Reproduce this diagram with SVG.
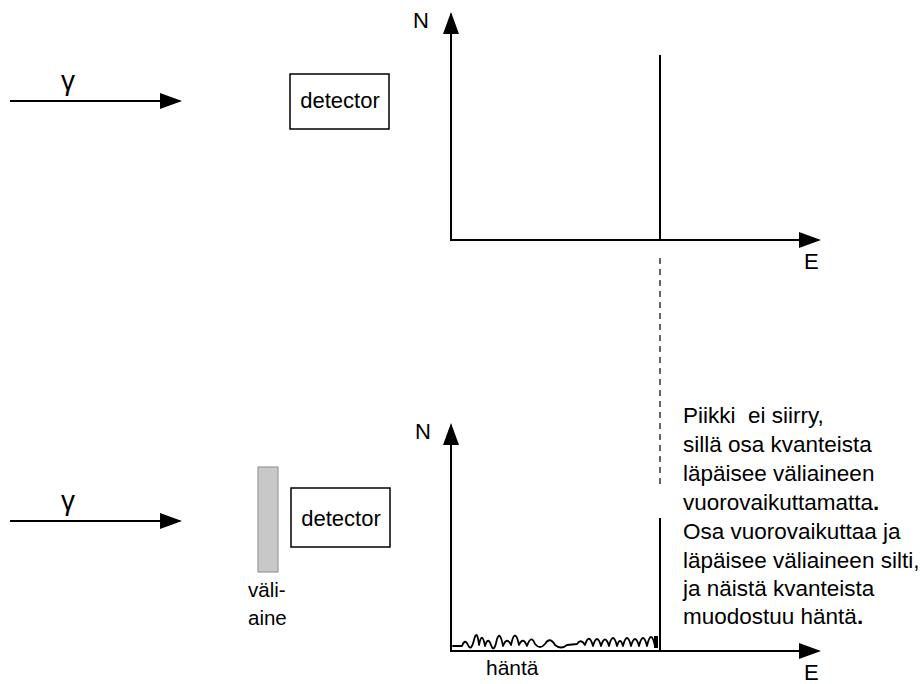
<svg xmlns="http://www.w3.org/2000/svg" width="920" height="684" viewBox="0 0 920 684">
  <style>
    text { font-family: "Liberation Sans", Arial, sans-serif; fill: #000; }
    .lbl { font-size: 22px; }
    .det { font-size: 22px; text-anchor: middle; }
    .note { font-size: 22.5px; white-space: pre; }
    .gam { font-size: 28px; }
    .ax { stroke: #000; stroke-width: 2; fill: none; }
    .box { fill: #fff; stroke: #000; stroke-width: 1.5; }
  </style>
  <defs>
    <marker id="head" markerUnits="userSpaceOnUse" markerWidth="22" markerHeight="16" refX="20" refY="8" orient="auto">
      <path d="M0,0 L22,8 L0,16 z" fill="#000"/>
    </marker>
  </defs>
  <rect width="920" height="684" fill="#fff"/>

  <!-- upper setup: bare detector -->
  <g id="beam-top">
    <text class="gam" x="61" y="90">γ</text>
  </g>
  <g id="detector-top">
    <rect class="box" x="290" y="74" width="99" height="55"/>
    <text class="det" x="340" y="108">detector</text>
  </g>

  <!-- upper spectrum -->
  <g id="spectrum-top">
    <text class="lbl" x="413" y="28">N</text>
    <text class="lbl" x="804" y="269">E</text>
    <line class="ax" x1="660" y1="55" x2="660" y2="240"/>
  </g>

  <!-- lower setup: absorber in front of detector -->
  <g id="beam-bottom">
    <text class="gam" x="61" y="510">γ</text>
  </g>
  <g id="absorber">
    <rect x="258" y="467" width="20" height="105" fill="#c8c8c8" stroke="#999" stroke-width="1.2"/>
    <text class="lbl" x="248" y="597" style="font-size:20.5px">väli-</text>
    <text class="lbl" x="248" y="625" style="font-size:20.5px">aine</text>
  </g>
  <g id="detector-bottom">
    <rect class="box" x="291" y="488" width="99" height="59"/>
    <text class="det" x="341" y="526">detector</text>
  </g>

  <!-- lower spectrum with the low-energy tail -->
  <g id="spectrum-bottom">
    <text class="lbl" x="415" y="439">N</text>
    <text class="lbl" x="804" y="680">E</text>
    <line class="ax" x1="660" y1="518" x2="660" y2="651"/>
    <path fill="none" stroke="#000" stroke-width="1.8" stroke-linejoin="round" stroke-linecap="round"
      d="M453,646 L462,646 Q465,638 468,645 T474,640 T479,645 Q482,630 485,646 Q488,636 491,645 T497,639 Q500,630 503,646 Q507,636 511,645 Q515,626 519,645 Q523,636 527,646 Q531,634 535,644 Q540,650 545,644 Q550,636 555,645 Q561,650 567,645 L577,644 Q581,638 585,645 Q589,632 593,646 Q597,632 601,646 Q605,633 609,646 Q613,630 617,646 Q620,636 623,646 Q627,630 631,646 Q635,632 639,646 Q643,630 647,646 Q651,628 655,646"/>
    <rect x="654" y="636" width="4" height="12" fill="#000"/>
    <text class="lbl" x="486" y="675" style="font-size:21px">häntä</text>
  </g>

  <g id="note">
    <text class="note" x="683" y="423">Piikki  ei siirry,</text>
    <text class="note" x="683" y="452">sillä osa kvanteista</text>
    <text class="note" x="683" y="481">läpäisee väliaineen</text>
    <text class="note" x="683" y="510">vuorovaikuttamatta<tspan font-weight="bold">.</tspan></text>
    <text class="note" x="683" y="539">Osa vuorovaikuttaa ja</text>
    <text class="note" x="683" y="568">läpäisee väliaineen silti,</text>
    <text class="note" x="683" y="596">ja näistä kvanteista</text>
    <text class="note" x="683" y="624">muodostuu häntä<tspan font-weight="bold">.</tspan></text>
  </g>

  <!-- connectors: beams, axes and the dashed peak guide -->
  <g id="connectors">
    <line class="ax" x1="10" y1="101" x2="180" y2="101" marker-end="url(#head)"/>
    <line class="ax" x1="10" y1="521" x2="180" y2="521" marker-end="url(#head)"/>
    <line class="ax" x1="451" y1="240" x2="451" y2="14" marker-end="url(#head)"/>
    <line class="ax" x1="450" y1="240" x2="819" y2="240" marker-end="url(#head)"/>
    <line class="ax" x1="451" y1="651" x2="451" y2="425" marker-end="url(#head)"/>
    <line class="ax" x1="450" y1="651" x2="819" y2="651" marker-end="url(#head)"/>
    <line x1="660" y1="258" x2="660" y2="488" stroke="#000" stroke-width="1.2" stroke-dasharray="6 5"/>
  </g>
</svg>
